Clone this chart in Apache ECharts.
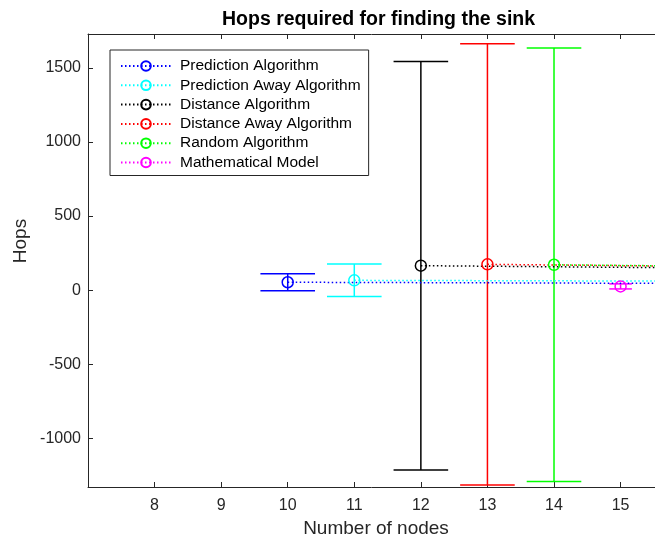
<!DOCTYPE html>
<html>
<head>
<meta charset="utf-8">
<script src="https://cdn.jsdelivr.net/npm/echarts@6/dist/echarts.min.js"></script>
<style>html,body{margin:0;padding:0;background:#fff}#c{width:655px;height:546px}</style>
</head>
<body>
<div id="c"></div>
<script>
// ---- data ----
const seriesNames = ['Prediction Algorithm','Prediction Away Algorithm','Distance Algorithm','Distance Away Algorithm','Random Algorithm','Mathematical Model'];
const predictionX = [10, 20];
const predictionMean = [53, 40];
const predictionErr = [58, 50];
const predictionAwayX = [11, 21];
const predictionAwayMean = [66, 55];
const predictionAwayErr = [110, 90];
const distanceX = [12, 22];
const distanceMean = [165, 128];
const distanceErr = [1380, 1200];
const distanceAwayX = [13, 23];
const distanceAwayMean = [174, 131];
const distanceAwayErr = [1490, 1300];
const randomX = [14, 24];
const randomMean = [171, 130];
const randomErr = [1464, 1300];
const mathModelX = [15];
const mathModelMean = [25];
const mathModelErr = [17];
const xTicks = [8, 9, 10, 11, 12, 13, 14, 15];
const yTicks = [-1000, -500, 0, 500, 1000, 1500];

const colors = ['#0000ff','#00ffff','#000000','#ff0000','#00ff00','#ff00ff'];
const capHalf = [0.41, 0.41, 0.41, 0.41, 0.41, 0.17];
const allX = [predictionX, predictionAwayX, distanceX, distanceAwayX, randomX, mathModelX];
const allMean = [predictionMean, predictionAwayMean, distanceMean, distanceAwayMean, randomMean, mathModelMean];
const allErr = [predictionErr, predictionAwayErr, distanceErr, distanceAwayErr, randomErr, mathModelErr];

const FONT = '"Liberation Sans", Arial, Helvetica, sans-serif';
const AX = '#262626';

const series = [];
for (let i = 0; i < seriesNames.length; i++) {
  const col = colors[i], ch = capHalf[i];
  const ebData = allX[i].map((x, k) => [x, allMean[i][k] - allErr[i][k], allMean[i][k] + allErr[i][k]]);
  series.push({
    name: '_eb' + i,
    type: 'custom',
    clip: true,
    z: 2,
    data: ebData,
    renderItem: function (params, api) {
      const x = api.value(0), lo = api.value(1), hi = api.value(2);
      const t = api.coord([x, hi]), b = api.coord([x, lo]);
      const tl = api.coord([x - ch, hi]), tr = api.coord([x + ch, hi]);
      const bl = api.coord([x - ch, lo]), br = api.coord([x + ch, lo]);
      const st = { stroke: col, lineWidth: 1.5 };
      return { type: 'group', children: [
        { type: 'line', shape: { x1: t[0], y1: t[1], x2: b[0], y2: b[1] }, style: st },
        { type: 'line', shape: { x1: tl[0], y1: tl[1], x2: tr[0], y2: tr[1] }, style: st },
        { type: 'line', shape: { x1: bl[0], y1: bl[1], x2: br[0], y2: br[1] }, style: st }
      ]};
    }
  });
  series.push({
    name: seriesNames[i],
    type: 'line',
    clip: true,
    z: 3,
    data: allX[i].map((x, k) => [x, allMean[i][k]]),
    symbol: 'circle',
    symbolSize: 11,
    showSymbol: true,
    itemStyle: { color: 'rgba(255,255,255,0)', borderColor: col, borderWidth: 1.5 },
    lineStyle: { color: col, width: 1.5, type: [1.5, 2.5] },
    emphasis: { disabled: true }
  });
}

const chart = echarts.init(document.getElementById('c'), null, { renderer: 'canvas' });
chart.setOption({
  animation: false,
  backgroundColor: '#ffffff',
  title: {
    text: 'Hops required for finding the sink',
    left: 217, top: 5,
    textStyle: { fontFamily: FONT, fontSize: 19.5, fontWeight: 'bold', color: '#000' }
  },
  legend: {
    data: seriesNames,
    orient: 'vertical',
    left: 110, top: 50,
    padding: [8, 8, 5, 10],
    itemWidth: 50, itemHeight: 12, itemGap: 3.3,
    borderColor: AX, borderWidth: 1,
    backgroundColor: '#ffffff',
    selectedMode: false,
    textStyle: { fontFamily: FONT, fontSize: 15.5, color: '#000', padding: [0, 0, 0, 4] }
  },
  grid: { left: 88, top: 34, bottom: 59, right: 0, containLabel: false },
  xAxis: [{
    type: 'value', min: 7, max: 15.517,
    name: 'Number of nodes', nameLocation: 'middle', nameGap: 31,
    nameTextStyle: { fontFamily: FONT, fontSize: 19, color: AX, padding: [0, 0, 0, 9] },
    axisLine: { show: true, onZero: false, lineStyle: { color: AX, width: 1 } },
    axisTick: { show: true, inside: true, length: 5, customValues: xTicks, lineStyle: { color: AX } },
    axisLabel: { customValues: xTicks, margin: 11, fontFamily: FONT, fontSize: 16, color: AX },
    splitLine: { show: false }
  }, {
    type: 'value', min: 7, max: 15.517, position: 'top',
    axisLine: { show: true, onZero: false, lineStyle: { color: AX, width: 1 } },
    axisTick: { show: true, inside: true, length: 5, customValues: xTicks, lineStyle: { color: AX } },
    axisLabel: { show: false },
    splitLine: { show: false }
  }],
  yAxis: [{
    type: 'value', min: -1330, max: 1730,
    axisLine: { show: true, onZero: false, lineStyle: { color: AX, width: 1 } },
    axisTick: { show: true, inside: true, length: 5, customValues: yTicks, lineStyle: { color: AX } },
    axisLabel: { customValues: yTicks, margin: 7, fontFamily: FONT, fontSize: 16, color: AX,
      formatter: function (v) { return String(v); } },
    splitLine: { show: false }
  }],
  graphic: [{
    type: 'text', x: 21, y: 241, rotation: Math.PI / 2,
    style: { text: 'Hops', fontFamily: FONT, fontSize: 19, fill: AX, textAlign: 'center', textVerticalAlign: 'middle' }
  }],
  series: series
});
</script>
</body>
</html>
